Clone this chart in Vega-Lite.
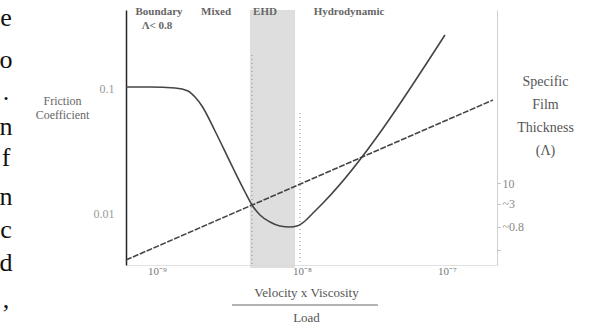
{
  "$schema": "https://vega.github.io/schema/vega-lite/v6.json",
  "width": 371,
  "height": 255,
  "autosize": {"type": "none"},
  "padding": {"left": 126, "top": 10, "right": 100, "bottom": 64},
  "background": "white",
  "config": {
    "view": {"stroke": null},
    "font": "Liberation Serif, Times New Roman, serif",
    "text": {"font": "Liberation Serif, Times New Roman, serif"},
    "axis": {"grid": false, "labelFont": "Liberation Serif, Times New Roman, serif", "titleFont": "Liberation Serif, Times New Roman, serif"}
  },
  "datasets": {
    "friction": [
      {"x": -9.214, "y": -0.992},
      {"x": -9.048, "y": -0.992},
      {"x": -8.876, "y": -1.0},
      {"x": -8.786, "y": -1.024},
      {"x": -8.738, "y": -1.072},
      {"x": -8.69, "y": -1.144},
      {"x": -8.6, "y": -1.344},
      {"x": -8.476, "y": -1.64},
      {"x": -8.393, "y": -1.832},
      {"x": -8.345, "y": -1.936},
      {"x": -8.29, "y": -2.016},
      {"x": -8.221, "y": -2.072},
      {"x": -8.152, "y": -2.104},
      {"x": -8.083, "y": -2.112},
      {"x": -8.035, "y": -2.104},
      {"x": -7.979, "y": -2.064},
      {"x": -7.924, "y": -2.0},
      {"x": -7.855, "y": -1.92},
      {"x": -7.014, "y": -0.576}
    ],
    "film": [
      {"x": -9.214, "lam": -0.925},
      {"x": -6.683, "lam": 3.075}
    ],
    "band": [
      {"x": -8.359, "x2": -8.048, "y": -0.376, "y2": -2.44}
    ],
    "dots": [
      {"x": -8.345, "y": -0.736, "y2": -2.416},
      {"x": -8.014, "y": -1.2, "y2": -2.39}
    ],
    "regions": [
      {"x": -8.986, "y": -0.392, "label": "Boundary"},
      {"x": -9.0, "y": -0.504, "label": "Λ< 0.8"},
      {"x": -8.593, "y": -0.392, "label": "Mixed"},
      {"x": -8.255, "y": -0.392, "label": "EHD"},
      {"x": -7.676, "y": -0.392, "label": "Hydrodynamic"}
    ],
    "bodytext": [
      {"x": -10.042, "y": -0.44, "label": "e"},
      {"x": -10.042, "y": -0.776, "label": "o"},
      {"x": -10.042, "y": -1.032, "label": "."},
      {"x": -10.042, "y": -1.312, "label": "n"},
      {"x": -10.042, "y": -1.56, "label": "f"},
      {"x": -10.042, "y": -1.872, "label": "n"},
      {"x": -10.042, "y": -2.136, "label": "c"},
      {"x": -10.042, "y": -2.4, "label": "d"},
      {"x": -10.042, "y": -2.696, "label": ","}
    ],
    "fractionbar": [
      {"x": -8.483, "x2": -7.476, "y": -2.736}
    ]
  },
  "layer": [
    {
      "encoding": {
        "x": {
          "field": "x",
          "type": "quantitative",
          "scale": {"domain": [-9.214, -6.655], "nice": false, "zero": false},
          "axis": {
            "values": [-9, -8, -7],
            "labelExpr": "datum.value == -9 ? '10⁻⁹' : (datum.value == -8 ? '10⁻⁸' : '10⁻⁷')",
            "ticks": false,
            "domainColor": "#e2e2e2",
            "labelColor": "#777",
            "labelFontSize": 11,
            "labelPadding": 0,
            "title": ["Velocity x Viscosity", "Load"],
            "titleFontSize": 13,
            "titleFontWeight": "normal",
            "titleColor": "#555",
            "titleLineHeight": 25,
            "titleBaseline": "top",
            "titleX": 180,
            "titleY": 21
          }
        },
        "y": {
          "field": "y",
          "type": "quantitative",
          "scale": {"domain": [-2.416, -0.376], "nice": false, "zero": false},
          "axis": {
            "values": [-1, -2],
            "labelExpr": "datum.value == -1 ? '0.1' : '0.01'",
            "ticks": false,
            "domainColor": "#222",
            "domainWidth": 1.5,
            "labelColor": "#999",
            "labelFontSize": 12,
            "labelPadding": 12,
            "title": ["Friction", "Coefficient"],
            "titleAngle": 0,
            "titleAlign": "center",
            "titleBaseline": "top",
            "titleFontSize": 12,
            "titleFontWeight": "normal",
            "titleColor": "#666",
            "titleLineHeight": 14,
            "titleX": -64,
            "titleY": 85
          }
        }
      },
      "layer": [
        {
          "data": {"name": "band"},
          "mark": {"type": "rect", "color": "#d6d6d6", "opacity": 0.8},
          "encoding": {"x2": {"field": "x2"}, "y2": {"field": "y2"}}
        },
        {
          "data": {"name": "dots"},
          "mark": {"type": "rule", "color": "#999", "strokeDash": [1, 3], "strokeWidth": 1.2},
          "encoding": {"y2": {"field": "y2"}}
        },
        {
          "data": {"name": "friction"},
          "mark": {"type": "line", "color": "#444", "strokeWidth": 1.6, "interpolate": "monotone"}
        },
        {
          "data": {"name": "regions"},
          "mark": {"type": "text", "fontSize": 11, "fontWeight": "bold", "color": "#666", "align": "center", "baseline": "middle"},
          "encoding": {"text": {"field": "label"}}
        },
        {
          "data": {"name": "bodytext"},
          "mark": {"type": "text", "fontSize": 26, "color": "#111", "align": "center", "baseline": "middle"},
          "encoding": {"text": {"field": "label"}}
        },
        {
          "data": {"name": "fractionbar"},
          "mark": {"type": "rule", "color": "#666", "strokeWidth": 1},
          "encoding": {"x2": {"field": "x2"}}
        }
      ]
    },
    {
      "data": {"name": "film"},
      "mark": {"type": "line", "color": "#444", "strokeWidth": 1.6, "strokeDash": [6, 1.5]},
      "encoding": {
        "x": {"field": "x", "type": "quantitative"},
        "y": {
          "field": "lam",
          "type": "quantitative",
          "scale": {"domain": [-1.05, 5.325], "nice": false, "zero": false},
          "axis": {
            "orient": "right",
            "values": [1, 0.477, -0.097, -0.675],
            "labelExpr": "datum.value == 1 ? '10' : (datum.value > 0.4 ? '~3' : (datum.value > -0.2 ? '~0.8' : ''))",
            "domainColor": "#cfcfcf",
            "tickColor": "#bbb",
            "tickSize": 3,
            "labelColor": "#888",
            "labelFontSize": 12,
            "labelPadding": 2,
            "title": ["Specific", "Film", "Thickness", "(Λ)"],
            "titleAngle": 0,
            "titleAlign": "center",
            "titleBaseline": "top",
            "titleFontSize": 14,
            "titleFontWeight": "normal",
            "titleColor": "#555",
            "titleLineHeight": 23,
            "titleX": 48,
            "titleY": 64
          }
        }
      }
    }
  ],
  "resolve": {"scale": {"y": "independent"}}
}
